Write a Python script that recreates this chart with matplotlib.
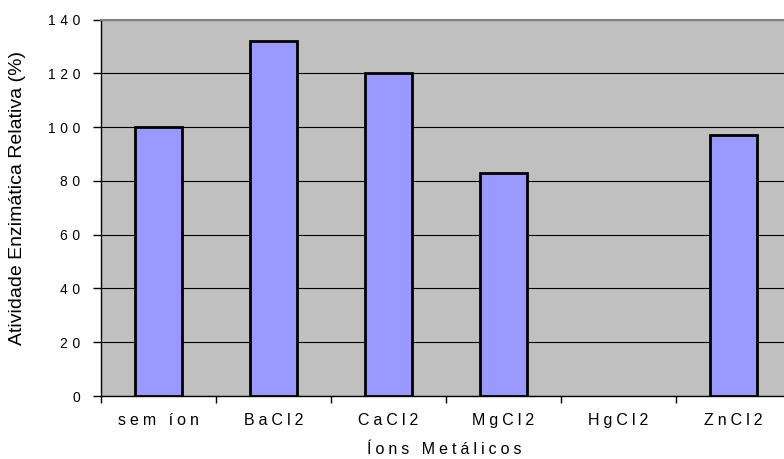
import matplotlib
matplotlib.use('Agg')
import matplotlib.pyplot as plt
import numpy as np

plt.rcParams['font.family'] = ['Liberation Sans', 'DejaVu Sans']

ions = ['sem íon', 'BaCl2', 'CaCl2', 'MgCl2', 'HgCl2', 'ZnCl2']
atividade = [100, 132, 120, 83, 0, 97]
yticks = [0, 20, 40, 60, 80, 100, 120, 140]


def spaced(s, gap='\u2005'):
    # old spreadsheet style: wide character spacing
    return gap.join(s)


fig = plt.figure(figsize=(7.84, 4.59), dpi=100)
ax = fig.add_axes([101 / 784, 1 - 396 / 459, 690 / 784, 376.5 / 459])
ax.set_facecolor('#C0C0C0')

x = np.arange(len(ions)) + 0.5
bars = ax.bar(x, atividade, width=0.41, color='#9999FF', edgecolor='black',
              linewidth=2.0, zorder=3)
for b, v in zip(bars, atividade):
    if v == 0:
        b.set_linewidth(0)

ax.set_xlim(0, len(ions))
ax.set_ylim(0, 140)
ax.set_yticks(yticks)
ax.set_yticklabels([spaced(str(v), '\u2004') for v in yticks], fontsize=10)
ax.yaxis.grid(True, color='black', linewidth=0.8, zorder=1)
ax.set_axisbelow(True)

# category boundaries as ticks, names centred between them
ax.set_xticks(np.arange(len(ions) + 1))
ax.set_xticklabels([])
ax.set_xticks(x, minor=True)
ax.set_xticklabels([spaced(s) for s in ions], minor=True, fontsize=11.5)
ax.tick_params(axis='x', which='minor', length=0, pad=12)
ax.tick_params(axis='x', which='major', length=5, width=1, color='black')
ax.tick_params(axis='y', length=6, width=1, pad=9)

ax.spines['top'].set_color('#808080')
ax.spines['top'].set_linewidth(1.5)
ax.spines['right'].set_visible(False)
for side in ('left', 'bottom'):
    ax.spines[side].set_linewidth(1.0)

ax.set_ylabel('Atividade Enzimática Relativa (%)', fontsize=14)
ax.yaxis.set_label_coords(-0.109, 0.526)
ax.set_xlabel(spaced('Íons Metálicos'), fontsize=11.5)
ax.xaxis.set_label_coords(0.497, -0.121)

fig.savefig('out.png', dpi=100)
